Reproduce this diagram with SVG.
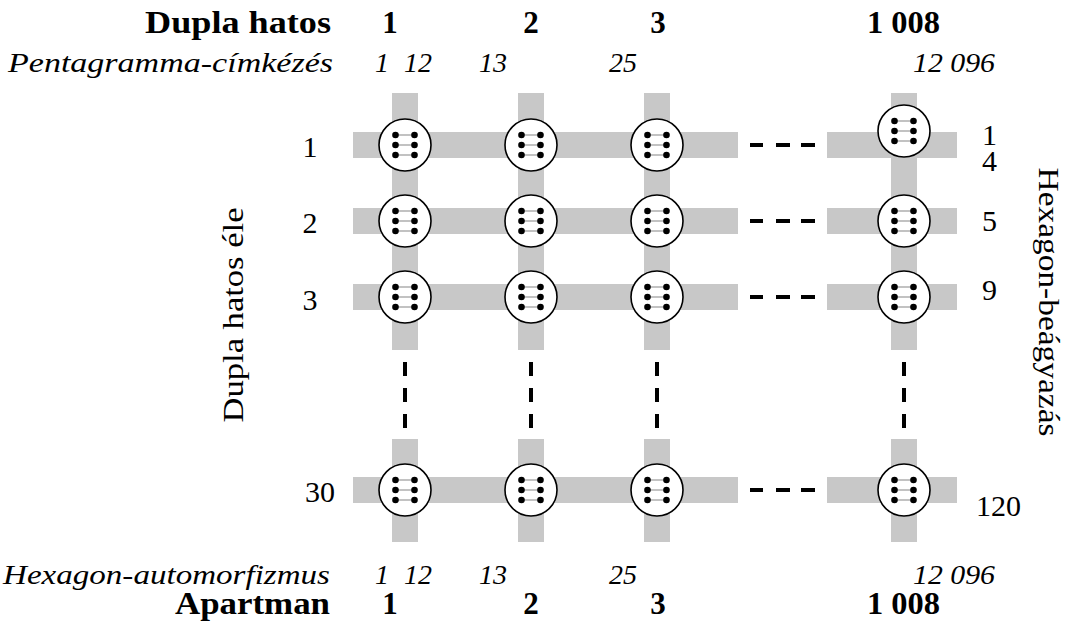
<svg xmlns="http://www.w3.org/2000/svg" xmlns:xlink="http://www.w3.org/1999/xlink" width="1073" height="630" viewBox="0 0 1073 630">
  <style>
    .bar { fill: #c8c8c8; }
    .dash { fill: #000; }
    .disk { fill: #fff; stroke: #000; stroke-width: 1.6; }
    .pip { fill: #000; }
    .link { stroke: #999; stroke-width: 1.2; }
    .b { font-weight: bold; font-size: 31px; }
    .i { font-style: italic; font-size: 28px; }
    .n { font-size: 30px; }
  </style>
  <defs>
    <!-- a double-six tile seen as a round token with two columns of three pips -->
    <g id="domino">
      <circle class="disk" r="26"/>
      <line class="link" x1="-9.5" y1="-10" x2="9.5" y2="-10"/>
      <line class="link" x1="-9.5" y1="0" x2="9.5" y2="0"/>
      <line class="link" x1="-9.5" y1="10" x2="9.5" y2="10"/>
      <circle class="pip" cx="-9.5" cy="-10" r="3.3"/>
      <circle class="pip" cx="9.5" cy="-10" r="3.3"/>
      <circle class="pip" cx="-9.5" cy="0" r="3.3"/>
      <circle class="pip" cx="9.5" cy="0" r="3.3"/>
      <circle class="pip" cx="-9.5" cy="10" r="3.3"/>
      <circle class="pip" cx="9.5" cy="10" r="3.3"/>
    </g>
    <!-- three short strokes standing for elided rows/columns -->
    <g id="vdots">
      <rect class="dash" x="-2" y="0" width="4" height="14"/>
      <rect class="dash" x="-2" y="26" width="4" height="14"/>
      <rect class="dash" x="-2" y="52" width="4" height="14"/>
    </g>
    <g id="hdots">
      <rect class="dash" x="0" y="-2" width="13" height="4"/>
      <rect class="dash" x="26" y="-2" width="14" height="4"/>
      <rect class="dash" x="51" y="-2" width="14" height="4"/>
    </g>
  </defs>

  <g id="connectors">
    <!-- vertical bands (columns) -->
    <rect class="bar" x="392" y="93" width="26" height="257"/>
    <rect class="bar" x="518" y="93" width="26" height="257"/>
    <rect class="bar" x="644" y="93" width="26" height="257"/>
    <rect class="bar" x="891" y="93" width="26" height="257"/>
    <rect class="bar" x="392" y="439" width="26" height="103"/>
    <rect class="bar" x="518" y="439" width="26" height="103"/>
    <rect class="bar" x="644" y="439" width="26" height="103"/>
    <rect class="bar" x="891" y="439" width="26" height="103"/>
    <!-- horizontal bands (rows) -->
    <rect class="bar" x="353" y="132" width="385" height="26"/>
    <rect class="bar" x="827" y="132" width="130" height="26"/>
    <rect class="bar" x="353" y="208" width="385" height="26"/>
    <rect class="bar" x="827" y="208" width="130" height="26"/>
    <rect class="bar" x="353" y="284" width="385" height="26"/>
    <rect class="bar" x="827" y="284" width="130" height="26"/>
    <rect class="bar" x="353" y="477" width="385" height="26"/>
    <rect class="bar" x="827" y="477" width="130" height="26"/>
    <!-- elision marks -->
    <use xlink:href="#hdots" x="750" y="145"/>
    <use xlink:href="#hdots" x="750" y="221"/>
    <use xlink:href="#hdots" x="750" y="297"/>
    <use xlink:href="#hdots" x="750" y="490"/>
    <use xlink:href="#vdots" x="405" y="362"/>
    <use xlink:href="#vdots" x="531" y="362"/>
    <use xlink:href="#vdots" x="657" y="362"/>
    <use xlink:href="#vdots" x="904" y="362"/>
  </g>

  <!-- grid of tiles: row r, column c -->
  <g id="n-r1-c1"><use xlink:href="#domino" x="405" y="145"/></g>
  <g id="n-r1-c2"><use xlink:href="#domino" x="531" y="145"/></g>
  <g id="n-r1-c3"><use xlink:href="#domino" x="657" y="145"/></g>
  <g id="n-r1-c1008"><use xlink:href="#domino" x="904" y="131"/></g>
  <g id="n-r2-c1"><use xlink:href="#domino" x="405" y="221"/></g>
  <g id="n-r2-c2"><use xlink:href="#domino" x="531" y="221"/></g>
  <g id="n-r2-c3"><use xlink:href="#domino" x="657" y="221"/></g>
  <g id="n-r2-c1008"><use xlink:href="#domino" x="904" y="221"/></g>
  <g id="n-r3-c1"><use xlink:href="#domino" x="405" y="297"/></g>
  <g id="n-r3-c2"><use xlink:href="#domino" x="531" y="297"/></g>
  <g id="n-r3-c3"><use xlink:href="#domino" x="657" y="297"/></g>
  <g id="n-r3-c1008"><use xlink:href="#domino" x="904" y="297"/></g>
  <g id="n-r30-c1"><use xlink:href="#domino" x="405" y="490"/></g>
  <g id="n-r30-c2"><use xlink:href="#domino" x="531" y="490"/></g>
  <g id="n-r30-c3"><use xlink:href="#domino" x="657" y="490"/></g>
  <g id="n-r30-c1008"><use xlink:href="#domino" x="904" y="490"/></g>

  <g font-family="'Liberation Serif', 'DejaVu Serif', serif" fill="#000">
    <g id="labels-top">
      <text class="b" x="145" y="33" textLength="186" lengthAdjust="spacingAndGlyphs">Dupla hatos</text>
      <text class="b" x="390" y="33" text-anchor="middle">1</text>
      <text class="b" x="531" y="33" text-anchor="middle">2</text>
      <text class="b" x="658" y="33" text-anchor="middle">3</text>
      <text class="b" x="867" y="33" textLength="73" lengthAdjust="spacingAndGlyphs">1 008</text>
      <text class="i" x="8" y="72" textLength="325" lengthAdjust="spacingAndGlyphs">Pentagramma-címkézés</text>
      <text class="i" x="375" y="72">1</text>
      <text class="i" x="404" y="72">12</text>
      <text class="i" x="479" y="72">13</text>
      <text class="i" x="609" y="72">25</text>
      <text class="i" x="913" y="72" textLength="82" lengthAdjust="spacingAndGlyphs">12 096</text>
    </g>

    <g id="labels-bottom">
      <text class="i" x="3" y="584" textLength="327" lengthAdjust="spacingAndGlyphs">Hexagon-automorfizmus</text>
      <text class="i" x="375" y="584">1</text>
      <text class="i" x="404" y="584">12</text>
      <text class="i" x="479" y="584">13</text>
      <text class="i" x="609" y="584">25</text>
      <text class="i" x="913" y="584" textLength="82" lengthAdjust="spacingAndGlyphs">12 096</text>
      <text class="b" x="175" y="614" textLength="155" lengthAdjust="spacingAndGlyphs">Apartman</text>
      <text class="b" x="390" y="614" text-anchor="middle">1</text>
      <text class="b" x="531" y="614" text-anchor="middle">2</text>
      <text class="b" x="658" y="614" text-anchor="middle">3</text>
      <text class="b" x="867" y="614" textLength="73" lengthAdjust="spacingAndGlyphs">1 008</text>
    </g>

    <g id="labels-left">
      <text class="n" x="310" y="157" text-anchor="middle">1</text>
      <text class="n" x="310" y="233" text-anchor="middle">2</text>
      <text class="n" x="310" y="310" text-anchor="middle">3</text>
      <text class="n" x="320" y="502" text-anchor="middle">30</text>
      <text class="n" transform="translate(243 315) rotate(-90)" text-anchor="middle" textLength="215" lengthAdjust="spacingAndGlyphs">Dupla hatos éle</text>
    </g>

    <g id="labels-right">
      <text class="n" x="982" y="145">1</text>
      <text class="n" x="982" y="171">4</text>
      <text class="n" x="982" y="231">5</text>
      <text class="n" x="982" y="300">9</text>
      <text class="n" x="976" y="516">120</text>
      <text class="n" transform="translate(1039 302) rotate(90)" text-anchor="middle" textLength="269" lengthAdjust="spacingAndGlyphs">Hexagon-beágyazás</text>
    </g>
  </g>
</svg>
